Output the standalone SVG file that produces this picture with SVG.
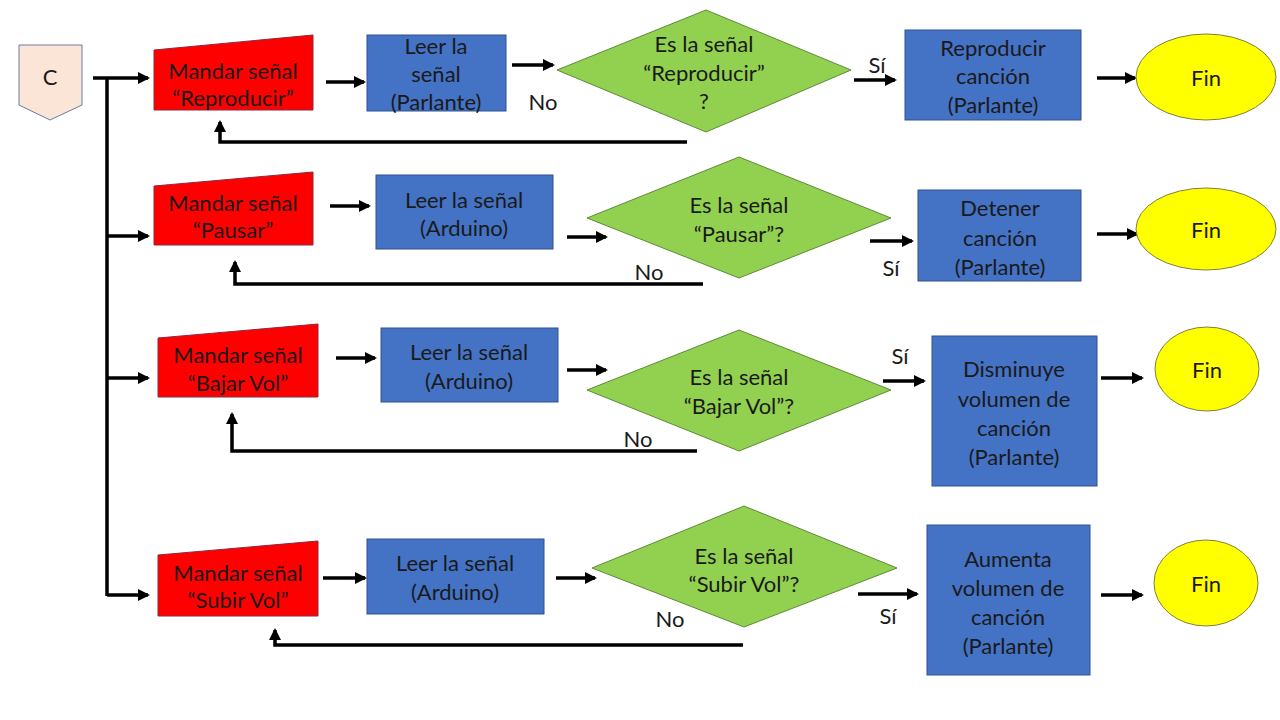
<svg xmlns="http://www.w3.org/2000/svg" width="1280" height="720" viewBox="0 0 1280 720">
<defs>
<marker id="ah" markerUnits="userSpaceOnUse" markerWidth="12" markerHeight="12" viewBox="0 0 12 12" refX="10" refY="6" orient="auto">
<path d="M0,0 L12,6 L0,12 z" fill="#000"/>
</marker>
<style>
.t{font-family:Lato,"Open Sans","Liberation Sans",sans-serif;font-size:22px;fill:#1a1a1a;text-anchor:middle;dominant-baseline:central}
.red{fill:#FF0000;stroke:#8B2942;stroke-width:1}
.blue{fill:#4472C4;stroke:#2F528F;stroke-width:1}
.green{fill:#92D050;stroke:#5E8A3A;stroke-width:1}
.yel{fill:#FFFF00;stroke:#7F7F3F;stroke-width:1}
.c{stroke:#000;stroke-width:3.5;fill:none}
.a{marker-end:url(#ah)}
</style>
</defs>
<rect width="1280" height="720" fill="#fff"/>

<g id="connectors">
<path class="c a" d="M93,78 H148"/>
<path class="c" d="M107,78 V596"/>
<path class="c a" d="M107,236 H148"/>
<path class="c a" d="M107,378 H148"/>
<path class="c a" d="M107,595 H148"/>
<path class="c a" d="M326,82 H364"/>
<path class="c a" d="M512,65 H553"/>
<path class="c a" d="M854,80 H895"/>
<path class="c a" d="M1097,78 H1135"/>
<path class="c a" d="M687,142 H220 V122"/>
<path class="c a" d="M330,206 H369"/>
<path class="c a" d="M567,237 H606"/>
<path class="c a" d="M870,241 H912"/>
<path class="c a" d="M1097,234 H1137"/>
<path class="c a" d="M703,284 H235 V262"/>
<path class="c a" d="M336,358 H375"/>
<path class="c a" d="M567,370 H606"/>
<path class="c a" d="M883,381 H924"/>
<path class="c a" d="M1101,378 H1142"/>
<path class="c a" d="M697,451 H232 V414"/>
<path class="c a" d="M323,578 H365"/>
<path class="c a" d="M556,578 H595"/>
<path class="c a" d="M858,594 H917"/>
<path class="c a" d="M1101,595 H1142"/>
<path class="c a" d="M743,645 H275 V630"/>
</g>

<g id="labels">
<text class="t" x="543" y="101">No</text>
<text class="t" x="877" y="64">Sí</text>
<text class="t" x="649" y="271">No</text>
<text class="t" x="891" y="267">Sí</text>
<text class="t" x="638" y="438">No</text>
<text class="t" x="900" y="355">Sí</text>
<text class="t" x="670" y="618">No</text>
<text class="t" x="888" y="615">Sí</text>
</g>

<g id="start">
<path d="M19,45 H82 V105 L50,120 L19,105 Z" fill="#FBE5D6" stroke="#6B7AA8" stroke-width="1"/>
<text class="t" x="50" y="76">C</text>
</g>

<g id="mandar1">
<path class="red" d="M154,50 L313,35 V110 H154 Z"/>
<text class="t" x="233" y="70">Mandar señal</text>
<text class="t" x="233" y="97">“Reproducir”</text>
</g>
<g id="leer1">
<rect class="blue" x="367" y="35" width="139" height="76"/>
<text class="t" x="436" y="45">Leer la</text>
<text class="t" x="436" y="73">señal</text>
<text class="t" x="436" y="101">(Parlante)</text>
</g>
<g id="dec1">
<path class="green" d="M557,70 L706,10 L851,70 L706,132 Z"/>
<text class="t" x="704" y="43">Es la señal</text>
<text class="t" x="704" y="72">“Reproducir”</text>
<text class="t" x="704" y="100">?</text>
</g>
<g id="rep">
<rect class="blue" x="905" y="30" width="176" height="90"/>
<text class="t" x="993" y="47">Reproducir</text>
<text class="t" x="993" y="75">canción</text>
<text class="t" x="993" y="104">(Parlante)</text>
</g>
<g id="fin1">
<ellipse class="yel" cx="1206" cy="77" rx="70" ry="43"/>
<text class="t" x="1206" y="77">Fin</text>
</g>

<g id="mandar2">
<path class="red" d="M154,186 L313,172 V245 H154 Z"/>
<text class="t" x="233" y="202">Mandar señal</text>
<text class="t" x="233" y="229">“Pausar”</text>
</g>
<g id="leer2">
<rect class="blue" x="376" y="175" width="177" height="74"/>
<text class="t" x="464" y="199">Leer la señal</text>
<text class="t" x="464" y="227">(Arduino)</text>
</g>
<g id="dec2">
<path class="green" d="M587,218 L739,157 L891,218 L739,278 Z"/>
<text class="t" x="739" y="204">Es la señal</text>
<text class="t" x="739" y="233">“Pausar”?</text>
</g>
<g id="det">
<rect class="blue" x="918" y="190" width="163" height="91"/>
<text class="t" x="1000" y="207">Detener</text>
<text class="t" x="1000" y="237">canción</text>
<text class="t" x="1000" y="266">(Parlante)</text>
</g>
<g id="fin2">
<ellipse class="yel" cx="1206" cy="229" rx="70" ry="41"/>
<text class="t" x="1206" y="229">Fin</text>
</g>

<g id="mandar3">
<path class="red" d="M158,338 L318,324 V397 H158 Z"/>
<text class="t" x="238" y="354">Mandar señal</text>
<text class="t" x="238" y="382">“Bajar Vol”</text>
</g>
<g id="leer3">
<rect class="blue" x="381" y="328" width="177" height="74"/>
<text class="t" x="469" y="351">Leer la señal</text>
<text class="t" x="469" y="380">(Arduino)</text>
</g>
<g id="dec3">
<path class="green" d="M587,390 L739,330 L891,390 L739,451 Z"/>
<text class="t" x="739" y="376">Es la señal</text>
<text class="t" x="739" y="405">“Bajar Vol”?</text>
</g>
<g id="dis">
<rect class="blue" x="932" y="336" width="165" height="150"/>
<text class="t" x="1014" y="368">Disminuye</text>
<text class="t" x="1014" y="398">volumen de</text>
<text class="t" x="1014" y="427">canción</text>
<text class="t" x="1014" y="456">(Parlante)</text>
</g>
<g id="fin3">
<ellipse class="yel" cx="1207" cy="369" rx="52" ry="42"/>
<text class="t" x="1207" y="369">Fin</text>
</g>

<g id="mandar4">
<path class="red" d="M158,555 L318,541 V616 H158 Z"/>
<text class="t" x="238" y="572">Mandar señal</text>
<text class="t" x="238" y="599">“Subir Vol”</text>
</g>
<g id="leer4">
<rect class="blue" x="367" y="539" width="177" height="75"/>
<text class="t" x="455" y="562">Leer la señal</text>
<text class="t" x="455" y="591">(Arduino)</text>
</g>
<g id="dec4">
<path class="green" d="M592,568 L744,506 L897,568 L744,627 Z"/>
<text class="t" x="744" y="555">Es la señal</text>
<text class="t" x="744" y="583">“Subir Vol”?</text>
</g>
<g id="aum">
<rect class="blue" x="927" y="525" width="163" height="150"/>
<text class="t" x="1008" y="558">Aumenta</text>
<text class="t" x="1008" y="587">volumen de</text>
<text class="t" x="1008" y="616">canción</text>
<text class="t" x="1008" y="645">(Parlante)</text>
</g>
<g id="fin4">
<ellipse class="yel" cx="1206" cy="583" rx="52" ry="43"/>
<text class="t" x="1206" y="583">Fin</text>
</g>
</svg>
